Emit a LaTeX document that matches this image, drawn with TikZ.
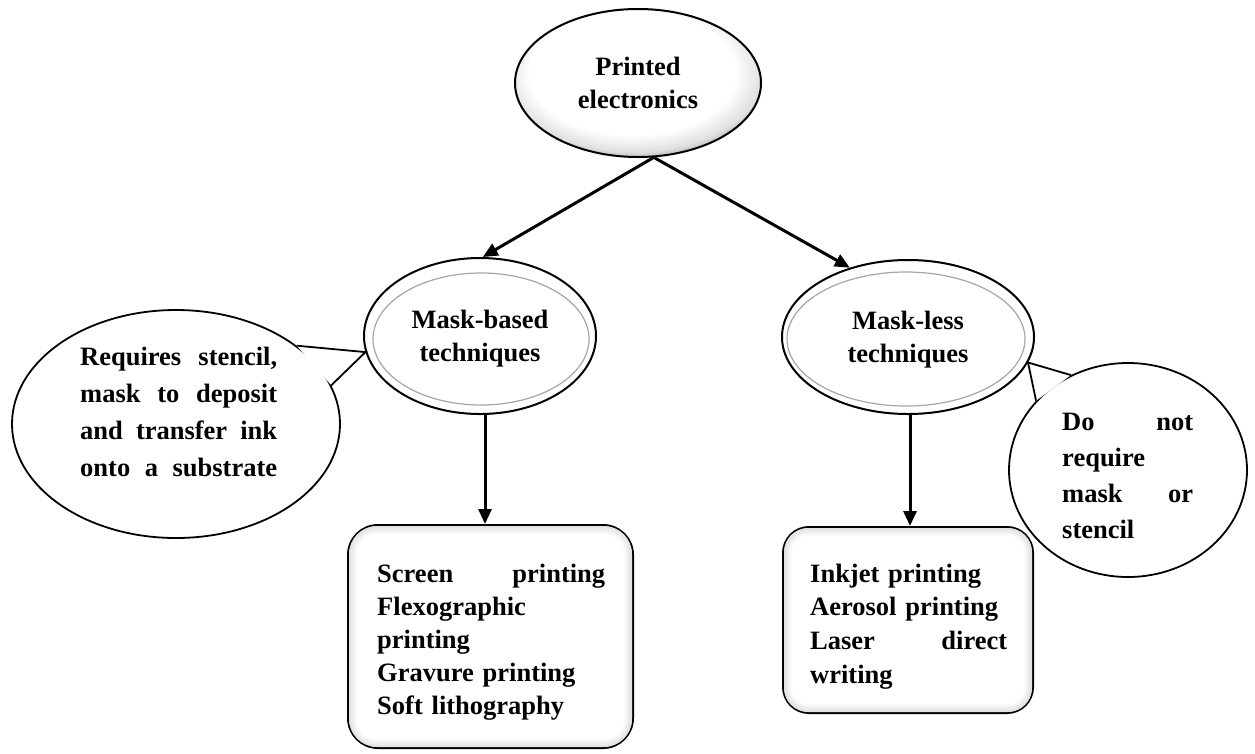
\documentclass[tikz,border=0pt]{standalone}
\usepackage{fontspec}
\setmainfont{Liberation Serif}
\usetikzlibrary{shapes.geometric,arrows.meta,calc}

% soft grey rim, heavier towards the bottom
\pgfdeclareradialshading{topglow}{\pgfpoint{-2bp}{6bp}}{color(0bp)=(white); color(21bp)=(white); color(26bp)=(black!12); color(31bp)=(black!45); color(50bp)=(black!45)}

\begin{document}
\begin{tikzpicture}[x=1pt,y=-1pt,
	every node/.style={font=\fontsize{26.5}{33}\selectfont\bfseries},
	oval/.style={ellipse,draw,line width=2pt,inner sep=0pt,align=center,text depth=0pt},
	callout/.style={ellipse,draw,fill=white,line width=1.8pt,inner sep=0pt},
	itembox/.style={draw,line width=2pt,fill=black!14},
	body/.style={anchor=base west,inner sep=0pt,align=left},
	arr/.style={line width=3pt,-{Triangle[length=15pt,width=13pt]}}]
	\useasboundingbox (0,0) rectangle (1255,753);

	% speech bubbles
	\node[callout,minimum width=328,minimum height=228] (masknote) at (176,424) {};
	\node[callout,minimum width=238,minimum height=214] (freenote) at (1128,470) {};

	% the two families
	\node[oval,fill=white,minimum width=232,minimum height=156] (maskbased) at (480,336) {Mask-based\\techniques};
	\draw[black!35,line width=1.2pt] (481,339) ellipse [x radius=108,y radius=66];
	\node[oval,fill=white,minimum width=252,minimum height=154] (maskless) at (908,337) {Mask-less\\techniques};
	\draw[black!35,line width=1.2pt] (906,339) ellipse [x radius=119,y radius=67];

	% bubble pointers
	\fill[white] (masknote.33) -- (maskbased.188) -- (masknote.14) -- cycle;
	\draw[line width=1.8pt] (masknote.33) -- (maskbased.188) -- (masknote.14);
	\fill[white] (freenote.121) -- (maskless.-12) -- (freenote.143) -- cycle;
	\draw[line width=1.8pt] (freenote.121) -- (maskless.-12) -- (freenote.143);

	% top of the tree
	\node[oval,shade,shading=topglow,minimum width=246,minimum height=148] (printed) at (638,83) {Printed\\electronics};

	% lists of techniques
	\node[itembox,rounded corners=30pt,minimum width=285,minimum height=223] (screenbox) at (490.5,636.5) {};
	\foreach \k/\c in {2/11,4/8,6/5,8/2,10/0}
		\fill[black!\c,rounded corners={(30-\k)*1pt}] ($(screenbox.south west)+(\k,-\k)$) rectangle ($(screenbox.north east)+(-\k,\k)$);
	\node[itembox,rounded corners=26pt,minimum width=250,minimum height=186] (inkbox) at (908,620) {};
	\foreach \k/\c in {2/11,4/8,6/5,8/2,10/0}
		\fill[black!\c,rounded corners={(26-\k)*1pt}] ($(inkbox.south west)+(\k,-\k)$) rectangle ($(inkbox.north east)+(-\k,\k)$);

	\draw[arr] (printed.-78) -- (maskbased.88);
	\draw[arr] (printed.-78) -- (maskless.130);
	\draw[arr] ([xshift=5pt]maskbased.south) -- ([xshift=5pt]maskbased.south |- screenbox.north);
	\draw[arr] ([xshift=2pt]maskless.south) -- ([xshift=2pt]maskless.south |- inkbox.north);

	% texts
	\node[body,text width=197,font=\fontsize{26.5}{37.3}\selectfont\bfseries] (masktext) at (80,365)
		{Requires \hfill stencil,\\mask \hfill to \hfill deposit\\and \hfill transfer \hfill ink\\onto \hfill a \hfill substrate};
	\node[body,text width=131,font=\fontsize{26.5}{36}\selectfont\bfseries] (freetext) at (1062,430)
		{Do \hfill not\\require\\mask \hfill or\\stencil};
	\node[body,text width=228] (screenlist) at (377,582)
		{Screen \hfill printing\\Flexographic\\printing\\Gravure printing\\Soft lithography};
	\node[body,text width=197,font=\fontsize{26.5}{33.7}\selectfont\bfseries] (inklist) at (810,582)
		{Inkjet printing\\Aerosol printing\\Laser \hfill direct\\writing};
\end{tikzpicture}
\end{document}
